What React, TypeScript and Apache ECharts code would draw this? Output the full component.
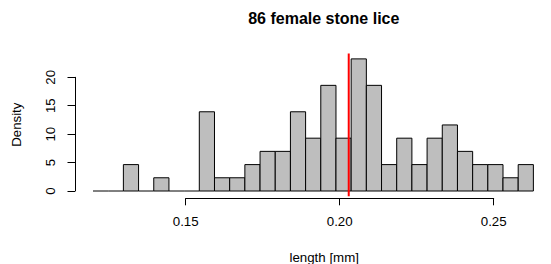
import React, { useEffect, useRef } from "react";
import * as echarts from "echarts";

// Histogram bin edges (left edges), bin width 0.005
const binStarts = [
  0.12, 0.125, 0.13, 0.135, 0.14, 0.145, 0.15, 0.155, 0.16, 0.165,
  0.17, 0.175, 0.18, 0.185, 0.19, 0.195, 0.2, 0.205, 0.21, 0.215,
  0.22, 0.225, 0.23, 0.235, 0.24, 0.245, 0.25, 0.255, 0.26,
];
const binEnds = [
  0.125, 0.13, 0.135, 0.14, 0.145, 0.15, 0.155, 0.16, 0.165, 0.17,
  0.175, 0.18, 0.185, 0.19, 0.195, 0.2, 0.205, 0.21, 0.215, 0.22,
  0.225, 0.23, 0.235, 0.24, 0.245, 0.25, 0.255, 0.26, 0.265,
];
// Density per bin
const densities = [
  0, 0, 4.65, 0, 2.33, 0, 0, 13.95, 2.33, 2.33,
  4.65, 6.98, 6.98, 13.95, 9.3, 18.6, 9.3, 23.26, 18.6, 4.65,
  9.3, 4.65, 9.3, 11.63, 6.98, 4.65, 4.65, 2.33, 4.65,
];
const meanLength = 0.2042;

const xTicks = [0.15, 0.2, 0.25];
const yTicks = [0, 5, 10, 15, 20];

const titleText = "86 female stone lice";
const xLabel = "length [mm]";
const yLabel = "Density";

const FONT = "'Liberation Sans', Arial, Helvetica, sans-serif";

export default function App() {
  const ref = useRef<HTMLDivElement>(null);
  useEffect(() => {
    if (!ref.current) return;
    const chart = echarts.init(ref.current, null, { renderer: "svg" });
    const data = binStarts.map((s, i) => [s, binEnds[i], densities[i]]);
    const plotXMin = binStarts[0] - 0.04 * (binEnds[binEnds.length - 1] - binStarts[0]);
    const plotXMax = binEnds[binEnds.length - 1] + 0.04 * (binEnds[binEnds.length - 1] - binStarts[0]);
    const dMax = Math.max(...densities);
    const plotYMin = -0.04 * dMax;
    const plotYMax = dMax * 1.04;

    chart.setOption({
      animation: false,
      backgroundColor: "#ffffff",
      textStyle: { fontFamily: FONT },
      grid: [
        { left: 75.4, width: 482.4, top: 53.6, height: 142.7 },
        { left: 185.7, width: 308, top: 188.3, height: 10 },
        { left: 75, width: 10, top: 77.3, height: 113.7 },
      ],
      xAxis: [
        { type: "value", gridIndex: 0, min: plotXMin, max: plotXMax, show: false },
        {
          type: "value",
          gridIndex: 1,
          min: xTicks[0],
          max: xTicks[xTicks.length - 1],
          interval: 0.05,
          position: "bottom",
          axisLine: { show: true, lineStyle: { color: "#000", width: 1 } },
          axisTick: { show: true, length: 7, lineStyle: { color: "#000", width: 1 } },
          axisLabel: {
            show: true,
            color: "#000",
            fontSize: 13.3,
            fontFamily: FONT,
            margin: 17,
            formatter: (v: number) => v.toFixed(2),
          },
          splitLine: { show: false },
        },
        { type: "value", gridIndex: 2, show: false, min: 0, max: 1 },
      ],
      yAxis: [
        { type: "value", gridIndex: 0, min: plotYMin, max: plotYMax, show: false },
        { type: "value", gridIndex: 1, show: false, min: 0, max: 1 },
        {
          type: "value",
          gridIndex: 2,
          min: yTicks[0],
          max: yTicks[yTicks.length - 1],
          interval: 5,
          position: "left",
          axisLine: { show: true, lineStyle: { color: "#000", width: 1 } },
          axisTick: { show: true, length: 7.5, lineStyle: { color: "#000", width: 1 } },
          axisLabel: {
            show: true,
            color: "#000",
            fontSize: 13.3,
            fontFamily: FONT,
            rotate: 90,
            margin: 18,
          },
          splitLine: { show: false },
        },
      ],
      series: [
        {
          type: "custom",
          xAxisIndex: 0,
          yAxisIndex: 0,
          data,
          encode: { x: [0, 1], y: 2 },
          renderItem: (params: any, api: any) => {
            const x0 = api.value(0);
            const x1 = api.value(1);
            const d = api.value(2);
            const p0 = api.coord([x0, 0]);
            const p1 = api.coord([x1, d]);
            if (!d) {
              return {
                type: "line",
                shape: { x1: p0[0], y1: p0[1], x2: p1[0], y2: p0[1] },
                style: { stroke: "#000", lineWidth: 1 },
              };
            }
            return {
              type: "rect",
              shape: { x: p0[0], y: p1[1], width: p1[0] - p0[0], height: p0[1] - p1[1] },
              style: { fill: "#BEBEBE", stroke: "#000", lineWidth: 1 },
            };
          },
          z: 2,
        },
        {
          type: "line",
          xAxisIndex: 0,
          yAxisIndex: 0,
          data: [
            [meanLength, plotYMin],
            [meanLength, plotYMax],
          ],
          symbol: "none",
          lineStyle: { color: "#FF0000", width: 2 },
          z: 5,
        },
      ],
      graphic: [
        {
          type: "text",
          x: 323.8,
          y: 18,
          style: {
            text: titleText,
            fill: "#000",
            font: `bold 16px ${FONT}`,
            textAlign: "center",
            textVerticalAlign: "middle",
          },
        },
        {
          type: "text",
          x: 324.2,
          y: 257,
          style: {
            text: xLabel,
            fill: "#000",
            font: `13.3px ${FONT}`,
            textAlign: "center",
            textVerticalAlign: "middle",
          },
        },
        {
          type: "text",
          x: 16,
          y: 124.7,
          rotation: Math.PI / 2,
          style: {
            text: yLabel,
            fill: "#000",
            font: `13.3px ${FONT}`,
            textAlign: "center",
            textVerticalAlign: "middle",
          },
        },
      ],
    });
    return () => chart.dispose();
  }, []);
  return (
    <div
      ref={ref}
      style={{ position: "fixed", left: 0, top: 0, width: 551, height: 264, background: "#fff" }}
    />
  );
}
